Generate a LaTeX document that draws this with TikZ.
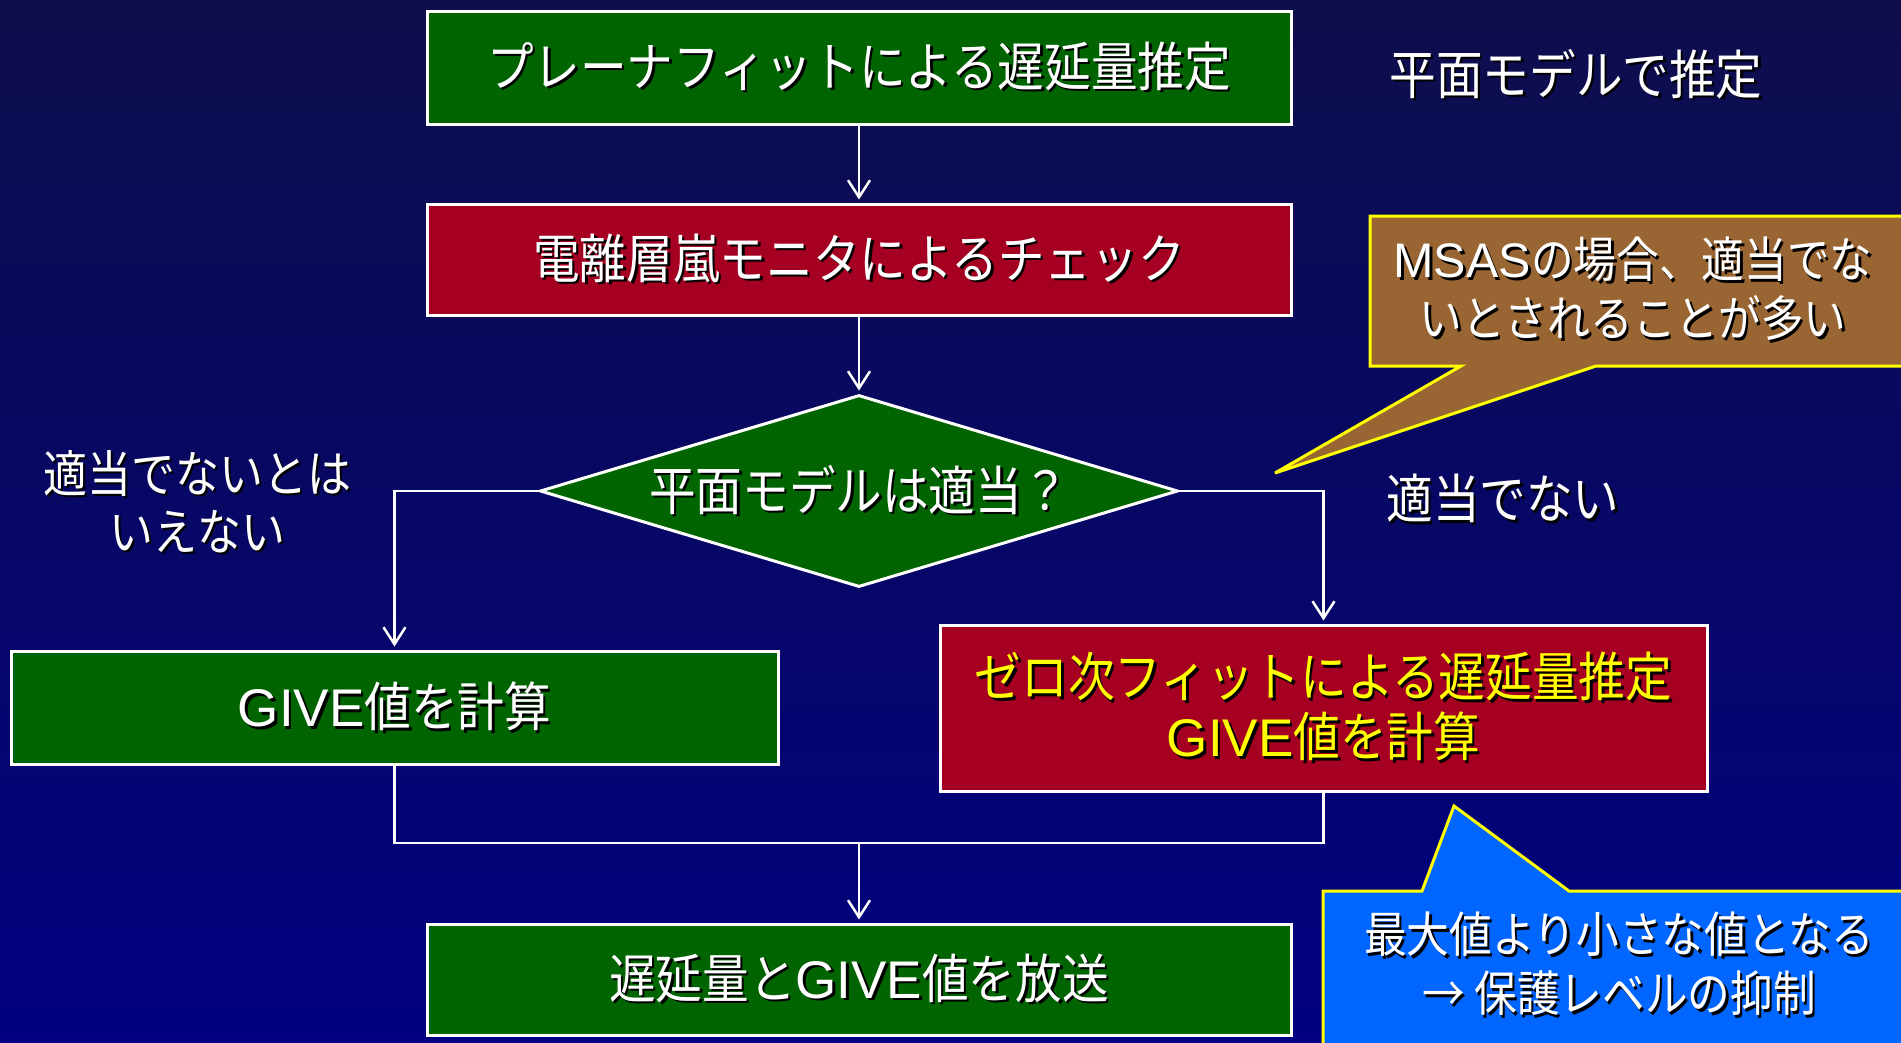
\documentclass[tikz,border=0pt]{standalone}
\usepackage{fontspec}
\newfontfamily\jp[FakeStretch=0.88]{Noto Sans CJK JP}
\newfontfamily\latn{Liberation Sans}
\usetikzlibrary{shapes.geometric,arrows.meta}
\definecolor{bgtop}{RGB}{14,14,76}
\definecolor{bgbot}{RGB}{0,0,128}
\definecolor{boxgreen}{RGB}{0,100,0}
\definecolor{boxred}{RGB}{165,0,33}
\definecolor{callbrown}{RGB}{153,102,51}
\definecolor{callblue}{RGB}{0,102,255}
\definecolor{calledge}{RGB}{255,255,0}
\definecolor{txtyellow}{RGB}{255,255,0}
\definecolor{txtshadow}{RGB}{0,0,0}
\newcommand\shd[1]{\makebox[0pt][l]{\hspace{2.5pt}\raisebox{-2.5pt}{\textcolor{txtshadow}{#1}}}#1}
\begin{document}
\begin{tikzpicture}[x=1pt,y=-1pt,
  every node/.style={font=\jp\fontsize{53}{60}\selectfont, text=white, align=center},
  flowbox/.style={draw=white, line width=3pt, inner sep=0pt},
  greenbox/.style={flowbox, fill=boxgreen},
  redbox/.style={flowbox, fill=boxred},
  conn/.style={draw=white, line width=2.5pt},
  arr/.style={conn, -{Straight Barb[length=17pt,width=22pt,line width=2.5pt]}, shorten >=3pt},
  callout/.style={draw=calledge, line width=3pt, line join=miter},
  label/.style={inner sep=0pt},
  smalllabel/.style={label, font=\jp\fontsize{50}{58}\selectfont},
  calltext/.style={label, font=\jp\fontsize{48.5}{59}\selectfont}
]
% background
\shade[top color=bgtop, bottom color=bgbot] (0,0) rectangle (1901,1042);
\useasboundingbox (0,0) rectangle (1901,1042);

% callouts (shapes)
\fill[callbrown] (1370,216) -- (1910,216) -- (1910,366) -- (1596,366) -- (1275,473) -- (1461,366) -- (1370,366) -- cycle;
\draw[callout] (1910,216) -- (1370,216) -- (1370,366) -- (1461,366) -- (1275,473) -- (1596,366) -- (1910,366);
\fill[callblue] (1323,891) -- (1422,891) -- (1454,806) -- (1569,891) -- (1910,891) -- (1910,1050) -- (1323,1050) -- cycle;
\draw[callout] (1323,1050) -- (1323,891) -- (1422,891) -- (1454,806) -- (1569,891) -- (1910,891);

% flow nodes
\node[greenbox, minimum width=864pt, minimum height=113pt] (plane) at (859,67.5) {\shd{プレーナフィットによる遅延量推定}};
\node[redbox, minimum width=864pt, minimum height=111pt] (storm) at (859,259.5) {\shd{電離層嵐モニタによるチェック}};
\node[diamond, draw=white, line width=3pt, fill=boxgreen, aspect=3.3, inner sep=0pt,
      minimum width=638pt, minimum height=192pt] (dia) at (859,491) {\shd{平面モデルは適当？}};
\node[greenbox, minimum width=767pt, minimum height=113pt] (give) at (394.5,707.5) {\shd{{\latn GIVE}値を計算}};
\node[redbox, minimum width=767pt, minimum height=166pt, text=txtyellow] (zero) at (1323.5,708)
  {\shd{ゼロ次フィットによる遅延量推定}\\\shd{{\latn GIVE}値を計算}};
\node[greenbox, minimum width=864pt, minimum height=111pt] (send) at (859,979.5) {\shd{遅延量と{\latn GIVE}値を放送}};

% labels
\node[label] (lplane) at (1576,75) {\shd{平面モデルで推定}};
\node[smalllabel] (lyes) at (197,503) {\shd{適当でないとは}\\\shd{いえない}};
\node[label] (lno) at (1503,500) {\shd{適当でない}};
\node[calltext] (lmsas) at (1633,290) {\shd{{\latn MSAS}の場合、適当でな}\\\shd{いとされることが多い}};
\node[calltext] (lmax) at (1619,965) {\shd{最大値より小さな値となる}\\\shd{→ 保護レベルの抑制}};

% connectors
\coordinate (merge) at (859,843);
\draw[arr] (plane) -- (storm);
\draw[arr] (storm) -- (dia);
\draw[arr] (dia.west) -| (give.north);
\draw[arr] (dia.east) -| (zero.north);
\draw[conn] (give.south) |- (merge) -| (zero.south);
\draw[arr] (merge) -- (send);
\end{tikzpicture}
\end{document}
